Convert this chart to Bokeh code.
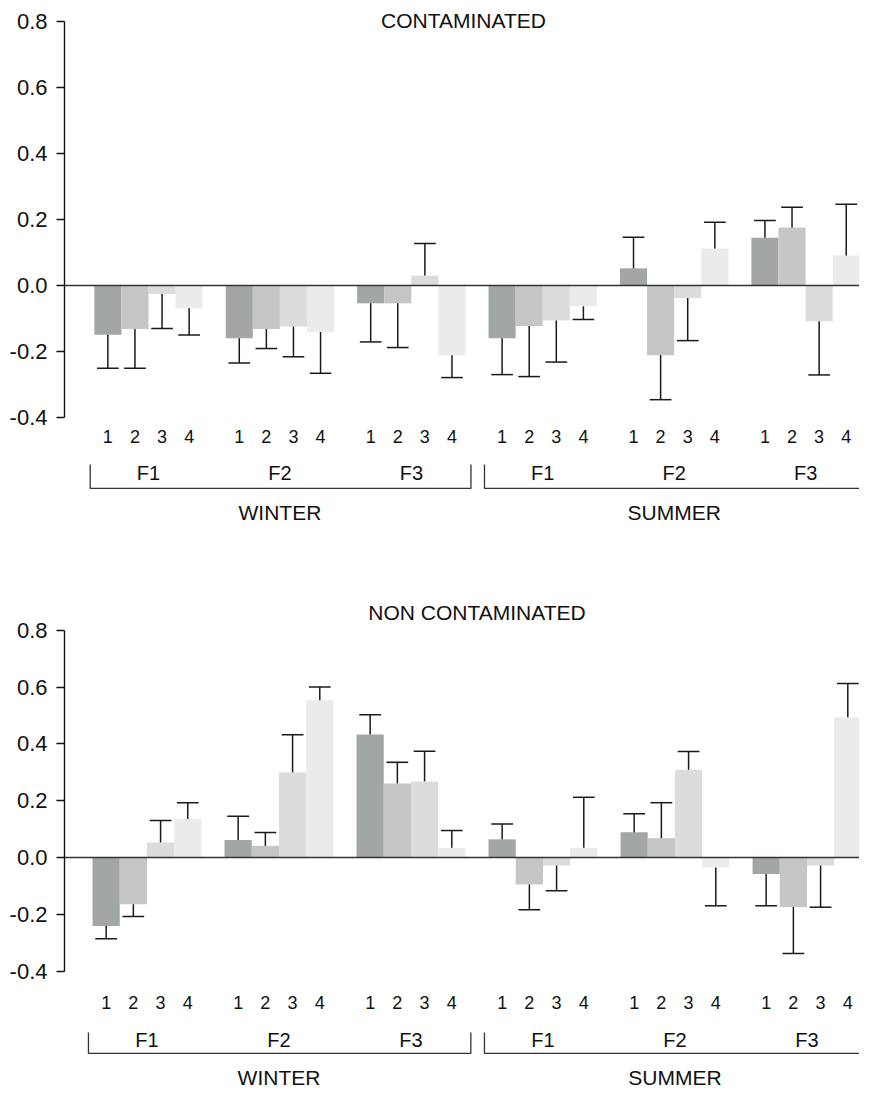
from bokeh.plotting import figure
from bokeh.layouts import column
from bokeh.models import ColumnDataSource, FixedTicker, PrintfTickFormatter, Span, Range1d
from bokeh.core.properties import value
from bokeh.embed import file_html
from bokeh.resources import INLINE

# ---------------- data ----------------
seasons = ["WINTER", "SUMMER"]
factors = ["F1", "F2", "F3"]
levels = ["1", "2", "3", "4"]
y_ticks = [-0.4, -0.2, 0.0, 0.2, 0.4, 0.6, 0.8]

# CONTAMINATED: mean per (season, factor) group, 4 levels each
cont_mean = [
    [-0.149, -0.132, -0.026, -0.069],   # WINTER F1
    [-0.160, -0.132, -0.124, -0.141],   # WINTER F2
    [-0.054, -0.054, 0.030, -0.211],    # WINTER F3
    [-0.160, -0.123, -0.106, -0.063],   # SUMMER F1
    [0.052, -0.211, -0.038, 0.112],     # SUMMER F2
    [0.145, 0.176, -0.108, 0.091],      # SUMMER F3
]
cont_err = [
    [0.102, 0.119, 0.104, 0.081],
    [0.075, 0.059, 0.092, 0.125],
    [0.117, 0.134, 0.097, 0.068],
    [0.110, 0.153, 0.126, 0.040],
    [0.094, 0.135, 0.129, 0.080],
    [0.052, 0.061, 0.163, 0.155],
]

# NON CONTAMINATED
non_mean = [
    [-0.241, -0.165, 0.053, 0.136],
    [0.062, 0.041, 0.300, 0.554],
    [0.433, 0.261, 0.268, 0.034],
    [0.064, -0.095, -0.028, 0.034],
    [0.089, 0.068, 0.309, -0.035],
    [-0.058, -0.174, -0.028, 0.494],
]
non_err = [
    [0.045, 0.043, 0.077, 0.057],
    [0.083, 0.047, 0.132, 0.046],
    [0.070, 0.074, 0.106, 0.061],
    [0.054, 0.089, 0.089, 0.178],
    [0.065, 0.125, 0.064, 0.135],
    [0.112, 0.164, 0.147, 0.119],
]

# ---------------- style ----------------
BAR_COLORS = ["#a3a6a7", "#c5c7c6", "#dcdcdb", "#ebebea"]
STEP = 4.85          # group step in bar widths
FONT = value("Liberation Sans")
W = 859


def make_panel(title, means, errs, height, left, x_start, x_end, y_start, y_end,
               lab_y, f_y, br_top, br_bot, season_y, title_y, title_dx):
    p = figure(width=W, height=height, output_backend="svg", toolbar_location=None,
               x_range=Range1d(x_start, x_end), y_range=Range1d(y_start, y_end),
               x_axis_location=None, min_border_left=left, min_border_right=0,
               min_border_top=0, min_border_bottom=0)
    p.outline_line_color = None
    p.grid.visible = False

    ax = p.yaxis[0]
    ax.bounds = (y_ticks[0], y_ticks[-1])
    ax.ticker = FixedTicker(ticks=y_ticks)
    ax.formatter = PrintfTickFormatter(format="%.1f")
    ax.major_label_text_font = "Liberation Sans"
    ax.major_label_text_font_size = "22px"
    ax.major_label_text_color = "#111111"
    ax.major_tick_out = 8
    ax.major_tick_in = 0
    ax.minor_tick_out = 0
    ax.minor_tick_in = 0
    ax.axis_line_width = 1.4
    ax.major_tick_line_width = 1.4
    ax.axis_line_color = "#111111"
    ax.major_tick_line_color = "#111111"
    ax.major_label_standoff = 9

    xs, tops, cols, labs = [], [], [], []
    ex, ey0, ey1 = [], [], []
    for g in range(len(means)):
        for i in range(4):
            xc = g * STEP + i + 0.5
            m = means[g][i]
            e = errs[g][i]
            end = m + e if m >= 0 else m - e
            xs.append(xc)
            tops.append(m)
            cols.append(BAR_COLORS[i])
            labs.append(levels[i])
            ex.append(xc)
            ey0.append(m)
            ey1.append(end)
    src = ColumnDataSource(dict(x=xs, top=tops, color=cols, lab=labs,
                                ex=ex, ey0=ey0, ey1=ey1,
                                cx0=[v - 0.4 for v in ex], cx1=[v + 0.4 for v in ex]))
    p.vbar(x="x", top="top", bottom=0, width=1.0, fill_color="color", line_color=None, source=src)
    p.segment(x0="ex", y0="ey0", x1="ex", y1="ey1", line_color="#1a1a1a", line_width=1.5, source=src)
    p.segment(x0="cx0", y0="ey1", x1="cx1", y1="ey1", line_color="#1a1a1a", line_width=1.5, source=src)
    p.add_layout(Span(location=0, dimension="width", line_color="#333333", line_width=1.6))

    # level labels 1..4
    p.text(x="x", y=lab_y, text="lab", source=src, text_align="center", text_baseline="middle",
           text_font=FONT, text_font_size=value("18px"), text_color="#111111")

    # factor labels
    fx, ft = [], []
    for s in range(len(seasons)):
        for f in range(len(factors)):
            g = s * len(factors) + f
            fx.append(g * STEP + 2.0)
            ft.append(factors[f])
    p.text(x=fx, y=[f_y] * len(fx), text=ft, text_align="center", text_baseline="middle",
           text_font=FONT, text_font_size=value("20px"), text_color="#111111")

    # season brackets and labels
    sx, st = [], []
    bx, by = [], []
    for s in range(len(seasons)):
        g0 = s * len(factors)
        g1 = g0 + len(factors) - 1
        left_x = g0 * STEP - 0.15
        right_x = g1 * STEP + 4 + 0.2
        if s == len(seasons) - 1:
            right_x = x_end
            bx.append([left_x, left_x, right_x])
            by.append([br_top, br_bot, br_bot])
        else:
            bx.append([left_x, left_x, right_x, right_x])
            by.append([br_top, br_bot, br_bot, br_top])
        sx.append((g0 * STEP + g1 * STEP + 4) / 2)
        st.append(seasons[s])
    p.multi_line(xs=bx, ys=by, line_color="#333333", line_width=1.3)
    p.text(x=sx, y=[season_y] * len(sx), text=st, text_align="center", text_baseline="middle",
           text_font=FONT, text_font_size=value("21px"), text_color="#111111")

    # panel title
    p.text(x=[((len(means) - 1) * STEP + 4) / 2 + title_dx], y=[title_y], text=[title],
           text_align="center", text_baseline="middle",
           text_font=FONT, text_font_size=value("21px"), text_color="#111111")
    return p


p1 = make_panel("CONTAMINATED", cont_mean, cont_err, 540, 58,
                -1.10, 28.24, -0.7727, 0.8636,
                -0.4576, -0.568, -0.5424, -0.615, -0.688, 0.8015, -0.5)
p2 = make_panel("NON CONTAMINATED", non_mean, non_err, 550, 64,
                -1.03, 28.18, -0.8204, 1.1162,
                -0.5106, -0.641, -0.616, -0.690, -0.775, 0.8627, 0.0)

layout = column(p1, p2, spacing=0)
open("out.html", "w").write(file_html(layout, INLINE))
